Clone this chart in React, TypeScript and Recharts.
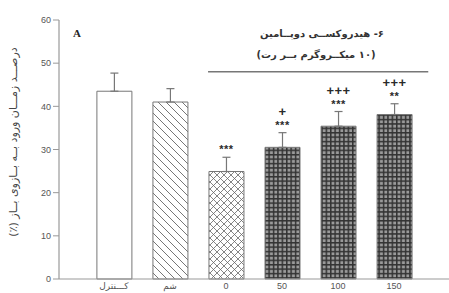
import { BarChart, Bar, XAxis, YAxis, ErrorBar, Cell, LabelList, ReferenceLine } from 'recharts';

const categories = ['کـــنترل', 'شم', '0', '50', '100', '150'];
const means = [43.5, 41.0, 24.9, 30.5, 35.4, 38.1];
const sem = [4.2, 3.1, 3.3, 3.4, 3.4, 2.5];
const starsVsControl = ['', '', '***', '***', '***', '**'];
const plusVsLesion = ['', '', '', '+', '+++', '+++'];
const yTicks = [0, 10, 20, 30, 40, 50, 60];
const fills = ['#ffffff', 'url(#hatch)', 'url(#diamond)', 'url(#grid)', 'url(#grid)', 'url(#grid)'];

const treatedSpan = [1.68, 5.61];
const treatedLevel = 48;

const data = categories.map((c, i) => ({ pos: i, mean: means[i], err: [0, sem[i]] }));

const axisColor = '#999';
const textColor = '#555';
const font = '"Liberation Sans", "DejaVu Sans", sans-serif';

function Marks(props: any) {
  const { x, y, width, height, index } = props;
  const pxPerUnit = height / means[index];
  const top = y - sem[index] * pxPerUnit;
  const cx = x + width / 2;
  return (
    <g fontFamily={font} fontWeight="bold" fill="#2a2a2a" textAnchor="middle">
      {starsVsControl[index] && (
        <text x={cx} y={top - 4} fontSize={11} letterSpacing={0.5}>{starsVsControl[index]}</text>
      )}
      {plusVsLesion[index] && (
        <text x={cx} y={top - 17} fontSize={13} letterSpacing={0.5}>{plusVsLesion[index]}</text>
      )}
    </g>
  );
}

export default function App() {
  return (
    <div style={{ position: 'absolute', left: 0, top: 0, width: 449, height: 293, background: '#fff' }}>
      <svg width={0} height={0} style={{ position: 'absolute' }}>
        <defs>
          <pattern id="hatch" width={8} height={8} patternUnits="userSpaceOnUse">
            <rect width={8} height={8} fill="#fff" />
            <path d="M-2,-2 L10,10 M-2,6 L2,10 M6,-2 L10,2" stroke="#666" strokeWidth={0.9} />
          </pattern>
          <pattern id="diamond" width={7} height={7} patternUnits="userSpaceOnUse">
            <rect width={7} height={7} fill="#fff" />
            <path d="M0,0 L7,7 M7,0 L0,7" stroke="#666" strokeWidth={0.8} />
          </pattern>
          <pattern id="grid" width={4.4} height={4.4} patternUnits="userSpaceOnUse">
            <rect width={4.4} height={4.4} fill="#9a9a9a" />
            <rect x={0} y={0} width={1.5} height={4.4} fill="#333" />
            <rect x={0} y={0} width={4.4} height={1.5} fill="#333" />
          </pattern>
        </defs>
      </svg>
      <BarChart width={449} height={293} data={data} margin={{ top: 20, right: 0, bottom: 0, left: 0 }}>
        <XAxis
          dataKey="pos"
          type="number"
          domain={[-0.98, 5.98]}
          ticks={[0, 1, 2, 3, 4, 5]}
          tickFormatter={(v: number) => categories[v]}
          allowDataOverflow
          height={14}
          tickLine={false}
          tickSize={0}
          tickMargin={4}
          axisLine={{ stroke: axisColor, strokeWidth: 1.2 }}
          tick={{ fill: textColor, fontSize: 9, fontFamily: font }}
          interval={0}
        />
        <YAxis
          width={59}
          domain={[0, 60]}
          ticks={yTicks}
          tickSize={6}
          tickMargin={2}
          axisLine={{ stroke: axisColor, strokeWidth: 1.2 }}
          tickLine={{ stroke: axisColor }}
          tick={{ fill: textColor, fontSize: 9, fontFamily: font }}
        />
        <ReferenceLine
          segment={[{ x: treatedSpan[0], y: treatedLevel }, { x: treatedSpan[1], y: treatedLevel }]}
          stroke="#777"
          strokeWidth={1.5}
        />
        <Bar dataKey="mean" barSize={35} stroke="#777" strokeWidth={1} isAnimationActive={false}>
          {data.map((d, i) => (
            <Cell key={i} fill={fills[i]} />
          ))}
          <ErrorBar dataKey="err" width={4} stroke="#777" strokeWidth={1.2} />
          <LabelList dataKey="mean" content={<Marks />} />
        </Bar>
      </BarChart>
      <svg width={449} height={293} style={{ position: 'absolute', left: 0, top: 0, pointerEvents: 'none' }}>
        <text x={77} y={37} fontFamily='"Liberation Serif", serif' fontWeight="bold" fontSize={11} fill="#222" textAnchor="middle">
          A
        </text>
        <text x={322} y={37} fontFamily='"DejaVu Sans", sans-serif' fontWeight="bold" fontSize={10} fill="#333" textAnchor="middle" direction="rtl">
          ۶- هیدروکســی دوپــامین
        </text>
        <text x={316} y={58} fontFamily='"DejaVu Sans", sans-serif' fontWeight="bold" fontSize={10} fill="#333" textAnchor="middle" direction="rtl">
          (۱۰ میکــروگرم بــر رت)
        </text>
        <text
          x={14}
          y={142}
          transform="rotate(-90 14 142)"
          fontFamily='"DejaVu Sans", sans-serif'
          fontSize={11}
          fill="#444"
          textAnchor="middle"
          dominantBaseline="middle"
          direction="rtl"
        >
          درصـــد زمـــان ورود بــه بــازوی بــاز (٪)
        </text>
      </svg>
    </div>
  );
}
